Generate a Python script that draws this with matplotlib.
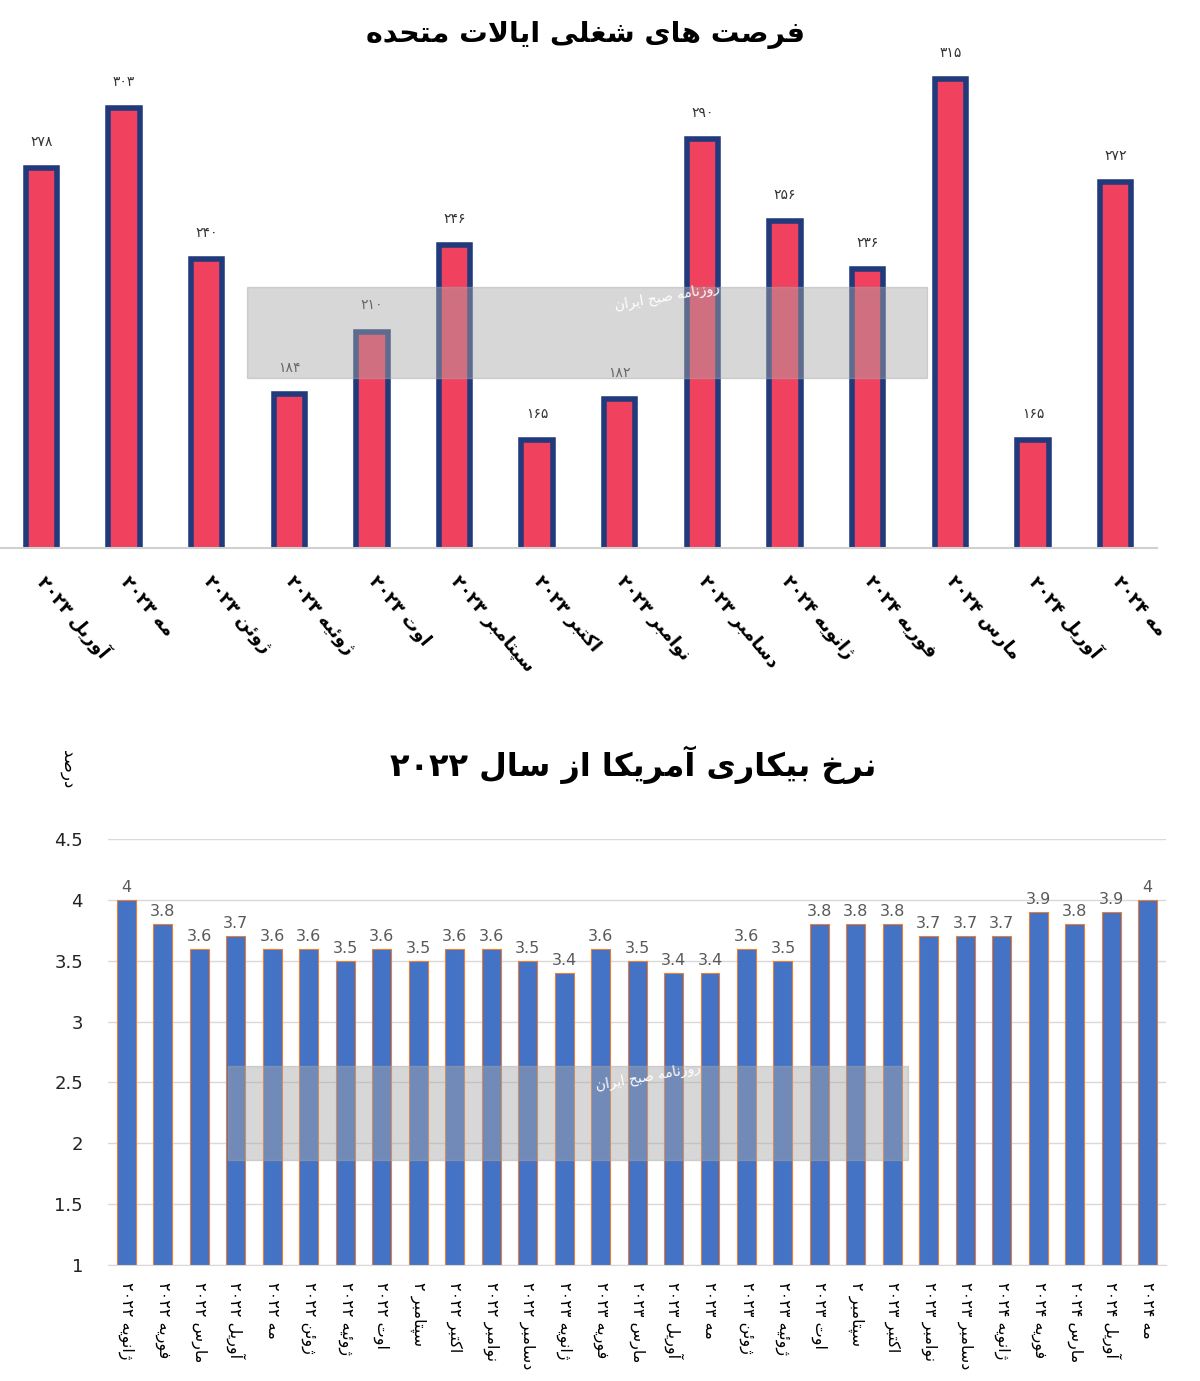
import matplotlib
matplotlib.use("Agg")
import matplotlib.pyplot as plt
from matplotlib.patches import Rectangle

# ---- data ----
jobs_labels = ["آوریل ۲۰۲۳", "مه ۲۰۲۳", "ژوئن ۲۰۲۳", "ژوئیه ۲۰۲۳", "اوت ۲۰۲۳",
               "سپتامبر ۲۰۲۳", "اکتبر ۲۰۲۳", "نوامبر ۲۰۲۳", "دسامبر ۲۰۲۳",
               "ژانویه ۲۰۲۴", "فوریه ۲۰۲۴", "مارس ۲۰۲۴", "آوریل ۲۰۲۴", "مه ۲۰۲۴"]
jobs_values = [278, 303, 240, 184, 210, 246, 165, 182, 290, 256, 236, 315, 165, 272]

rate_labels = ["ژانویه ۲۰۲۲", "فوریه ۲۰۲۲", "مارس ۲۰۲۲", "آوریل ۲۰۲۲", "مه ۲۰۲۲",
               "ژوئن ۲۰۲۲", "ژوئیه ۲۰۲۲", "اوت ۲۰۲۲", "سپتامبر ۲", "اکتبر ۲۰۲۲",
               "نوامبر ۲۰۲۲", "دسامبر ۲۰۲۲", "ژانویه ۲۰۲۳", "فوریه ۲۰۲۳", "مارس ۲۰۲۳",
               "آوریل ۲۰۲۳", "مه ۲۰۲۳", "ژوئن ۲۰۲۳", "ژوئیه ۲۰۲۳", "اوت ۲۰۲۳",
               "سپتامبر ۲", "اکتبر ۲۰۲۳", "نوامبر ۲۰۲۳", "دسامبر ۲۰۲۳", "ژانویه ۲۰۲۴",
               "فوریه ۲۰۲۴", "مارس ۲۰۲۴", "آوریل ۲۰۲۴", "مه ۲۰۲۴"]
rate_values = [4, 3.8, 3.6, 3.7, 3.6, 3.6, 3.5, 3.6, 3.5, 3.6, 3.6, 3.5, 3.4, 3.6, 3.5,
               3.4, 3.4, 3.6, 3.5, 3.8, 3.8, 3.8, 3.7, 3.7, 3.7, 3.9, 3.8, 3.9, 4]

title_jobs = "فرصت های شغلی ایالات متحده"
title_rate = "نرخ بیکاری آمریکا از سال ۲۰۲۲"
unit_label = "درصد"
stamp = "روزنامه صبح ایران"

# ---- minimal arabic/persian shaping (matplotlib has no RTL support) ----
# letter: (isolated, final, initial, medial); None for right-joining letters
FORMS = {
    'ا': (0xFE8D, 0xFE8E, None, None), 'آ': (0xFE81, 0xFE82, None, None),
    'أ': (0xFE83, 0xFE84, None, None), 'ب': (0xFE8F, 0xFE90, 0xFE91, 0xFE92),
    'پ': (0xFB56, 0xFB57, 0xFB58, 0xFB59), 'ت': (0xFE95, 0xFE96, 0xFE97, 0xFE98),
    'ث': (0xFE99, 0xFE9A, 0xFE9B, 0xFE9C), 'ج': (0xFE9D, 0xFE9E, 0xFE9F, 0xFEA0),
    'چ': (0xFB7A, 0xFB7B, 0xFB7C, 0xFB7D), 'ح': (0xFEA1, 0xFEA2, 0xFEA3, 0xFEA4),
    'خ': (0xFEA5, 0xFEA6, 0xFEA7, 0xFEA8), 'د': (0xFEA9, 0xFEAA, None, None),
    'ذ': (0xFEAB, 0xFEAC, None, None), 'ر': (0xFEAD, 0xFEAE, None, None),
    'ز': (0xFEAF, 0xFEB0, None, None), 'ژ': (0xFB8A, 0xFB8B, None, None),
    'س': (0xFEB1, 0xFEB2, 0xFEB3, 0xFEB4), 'ش': (0xFEB5, 0xFEB6, 0xFEB7, 0xFEB8),
    'ص': (0xFEB9, 0xFEBA, 0xFEBB, 0xFEBC), 'ض': (0xFEBD, 0xFEBE, 0xFEBF, 0xFEC0),
    'ط': (0xFEC1, 0xFEC2, 0xFEC3, 0xFEC4), 'ظ': (0xFEC5, 0xFEC6, 0xFEC7, 0xFEC8),
    'ع': (0xFEC9, 0xFECA, 0xFECB, 0xFECC), 'غ': (0xFECD, 0xFECE, 0xFECF, 0xFED0),
    'ف': (0xFED1, 0xFED2, 0xFED3, 0xFED4), 'ق': (0xFED5, 0xFED6, 0xFED7, 0xFED8),
    'ک': (0xFB8E, 0xFB8F, 0xFB90, 0xFB91), 'گ': (0xFB92, 0xFB93, 0xFB94, 0xFB95),
    'ل': (0xFEDD, 0xFEDE, 0xFEDF, 0xFEE0), 'م': (0xFEE1, 0xFEE2, 0xFEE3, 0xFEE4),
    'ن': (0xFEE5, 0xFEE6, 0xFEE7, 0xFEE8), 'و': (0xFEED, 0xFEEE, None, None),
    'ؤ': (0xFE85, 0xFE86, None, None), 'ه': (0xFEE9, 0xFEEA, 0xFEEB, 0xFEEC),
    'ی': (0xFBFC, 0xFBFD, 0xFBFE, 0xFBFF), 'ئ': (0xFE89, 0xFE8A, 0xFE8B, 0xFE8C),
}
LAM_ALEF = {'ا': (0xFEFB, 0xFEFC), 'آ': (0xFEF5, 0xFEF6)}


def dual(c):
    return c in FORMS and FORMS[c][2] is not None


def shape_word(s):
    out = []
    i = 0
    n = len(s)
    while i < n:
        c = s[i]
        if c not in FORMS:
            out.append(c)
            i += 1
            continue
        prev_joins = i > 0 and dual(s[i - 1])
        if c == 'ل' and i + 1 < n and s[i + 1] in LAM_ALEF:
            iso, fin = LAM_ALEF[s[i + 1]]
            out.append(chr(fin if prev_joins else iso))
            i += 2
            continue
        next_joins = dual(c) and i + 1 < n and s[i + 1] in FORMS
        iso, fin, ini, med = FORMS[c]
        if prev_joins and next_joins:
            code = med
        elif prev_joins:
            code = fin
        elif next_joins:
            code = ini
        else:
            code = iso
        out.append(chr(code))
        i += 1
    return ''.join(out)


def rtl(s):
    shaped = shape_word(s)
    # split into digit runs and other runs, reverse for visual order
    runs = []
    for ch in shaped:
        isdig = ch.isdigit() or ch == '.'
        if runs and runs[-1][0] == isdig:
            runs[-1][1].append(ch)
        else:
            runs.append((isdig, [ch]))
    vis = []
    for isdig, chars in reversed(runs):
        vis.append(''.join(chars) if isdig else ''.join(reversed(chars)))
    return ''.join(vis)


def fa_num(v):
    return ''.join("۰۱۲۳۴۵۶۷۸۹"[int(d)] for d in str(v))


plt.rcParams['font.family'] = ['DejaVu Sans']

fig = plt.figure(figsize=(12, 13.81), dpi=100)

# ---- top chart: job openings ----
ax1 = fig.add_axes([0.0, 0.6032, 0.964, 0.357])
x1 = range(len(jobs_values))
ax1.bar(x1, jobs_values, width=0.38, color='#F0425F', edgecolor='#203A7C',
        linewidth=4, zorder=2)
for xi, v in zip(x1, jobs_values):
    ax1.text(xi, v + 8, fa_num(v), ha='center', va='bottom', fontsize=10,
             color='#333333')
ax1.set_ylim(120, 325)
ax1.set_xlim(-0.5, len(jobs_values) - 0.5)
ax1.set_yticks([])
ax1.set_xticks(list(x1))
ax1.set_xticklabels([rtl(l) for l in jobs_labels], rotation=-50, ha='left',
                    va='center', rotation_mode='anchor', fontsize=13,
                    fontweight='bold')
ax1.tick_params(axis='x', length=0, pad=22)
for sp in ['top', 'left', 'right']:
    ax1.spines[sp].set_visible(False)
ax1.spines['bottom'].set_color('#D0D0D0')
ax1.spines['bottom'].set_linewidth(1.5)
fig.text(0.488, 0.975, rtl(title_jobs), ha='center', va='center', fontsize=20.5,
         fontweight='bold')

# ---- bottom chart: unemployment rate ----
ax2 = fig.add_axes([0.09, 0.084, 0.8817, 0.3085])
x2 = range(len(rate_values))
ax2.bar(x2, rate_values, width=0.52, color='#4472C4', edgecolor='#ED7D31',
        linewidth=0.8, zorder=2)
for xi, v in zip(x2, rate_values):
    ax2.text(xi, v + 0.04, f"{v:g}", ha='center', va='bottom', fontsize=11.5,
             color='#595959')
ax2.set_ylim(1, 4.5)
ax2.set_xlim(-0.5, len(rate_values) - 0.5)
ax2.set_yticks([1, 1.5, 2, 2.5, 3, 3.5, 4, 4.5])
ax2.set_yticklabels(["1", "1.5", "2", "2.5", "3", "3.5", "4", "4.5"], fontsize=13,
                    color='#222222')
ax2.yaxis.grid(True, color='#D9D9D9', linewidth=1, zorder=0)
ax2.set_axisbelow(True)
ax2.set_xticks(list(x2))
ax2.set_xticklabels([rtl(l) for l in rate_labels], rotation=-90, ha='center',
                    va='top', fontsize=11.5)
ax2.tick_params(axis='both', length=0)
ax2.tick_params(axis='y', pad=18)
ax2.tick_params(axis='x', pad=12)
for sp in ['top', 'left', 'right']:
    ax2.spines[sp].set_visible(False)
ax2.spines['bottom'].set_color('#D9D9D9')
fig.text(0.528, 0.446, rtl(title_rate), ha='center', va='center', fontsize=23,
         fontweight='bold')
fig.text(0.057, 0.443, rtl(unit_label), rotation=-90, ha='center', va='center',
         fontsize=12)

# ---- watermark bands ----
fig.patches.append(Rectangle((247 / 1200, 1 - 378 / 1381), 680 / 1200, 91 / 1381,
                             transform=fig.transFigure, color='#A8A8A8',
                             alpha=0.45, zorder=5))
fig.patches.append(Rectangle((228 / 1200, 1 - 1160 / 1381), 680 / 1200, 94 / 1381,
                             transform=fig.transFigure, color='#A8A8A8',
                             alpha=0.45, zorder=5))
fig.text(667 / 1200, 1 - 297 / 1381, rtl(stamp), ha='center', va='center',
         fontsize=10, color='white', rotation=10, zorder=6)
fig.text(648 / 1200, 1 - 1077 / 1381, rtl(stamp), ha='center', va='center',
         fontsize=10, color='white', rotation=10, zorder=6)

fig.savefig("out.png", dpi=100)
